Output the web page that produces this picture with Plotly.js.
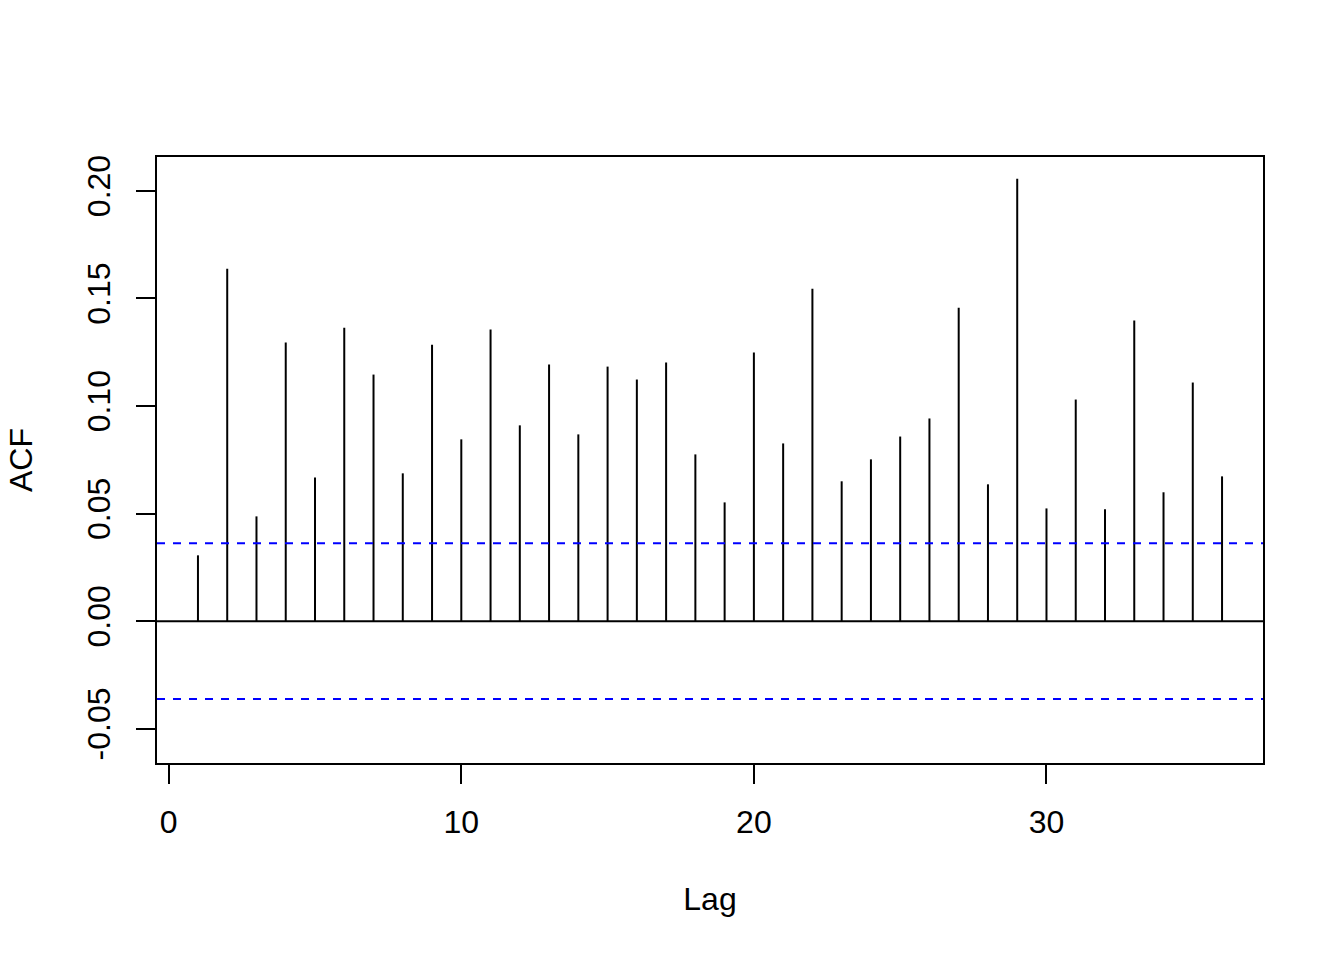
<!DOCTYPE html>
<html>
<head>
<meta charset="utf-8">
<script src="https://cdn.plot.ly/plotly-3.0.1.min.js"></script>
<style>html,body{margin:0;padding:0;background:#fff;}#chart{width:1344px;height:960px;}</style>
</head>
<body>
<div id="chart"></div>
<script>
// Data
var lags = [1,2,3,4,5,6,7,8,9,10,11,12,13,14,15,16,17,18,19,20,21,22,23,24,25,26,27,28,29,30,31,32,33,34,35,36];
var acfValues = [0.0306,0.1638,0.0487,0.1295,0.0668,0.1364,0.1146,0.0687,0.1285,0.0845,0.1355,0.0910,0.1193,0.0868,0.1183,0.1123,0.1202,0.0775,0.0552,0.1248,0.0826,0.1545,0.0650,0.0752,0.0858,0.0942,0.1457,0.0636,0.2056,0.0524,0.1030,0.0520,0.1397,0.0599,0.1109,0.0673];
var confLimit = 0.0362;
var xTickVals = [0,10,20,30];
var xTickText = ["0","10","20","30"];
var yTickVals = [-0.05,0,0.05,0.10,0.15,0.20];
var yTickText = ["-0.05","0.00","0.05","0.10","0.15","0.20"];

var sx = [], sy = [];
for (var i = 0; i < lags.length; i++) {
  sx.push(lags[i], lags[i], null);
  sy.push(0, acfValues[i], null);
}

var font = {family: "Liberation Sans, Arial, sans-serif", size: 32, color: "#000"};

var data = [{
  type: "scatter", mode: "lines", x: sx, y: sy,
  line: {color: "#000", width: 2}, hoverinfo: "skip", showlegend: false
}];

var layout = {
  width: 1344, height: 960,
  margin: {l: 157, r: 81, t: 157, b: 197},
  paper_bgcolor: "#fff", plot_bgcolor: "#fff",
  font: font,
  showlegend: false,
  xaxis: {
    range: [-0.4, 37.4], autorange: false,
    showgrid: false, zeroline: false,
    showline: true, mirror: true, linecolor: "#000", linewidth: 2,
    ticks: "outside", ticklen: 19, tickwidth: 2, tickcolor: "#000",
    tickmode: "array", tickvals: xTickVals, ticktext: xTickText,
    tickfont: font, ticklabelstandoff: 11,
    title: {text: "Lag", font: font, standoff: 48}
  },
  yaxis: {
    range: [-0.0659, 0.2157], autorange: false,
    showgrid: false, zeroline: false,
    showline: true, mirror: true, linecolor: "#000", linewidth: 2,
    ticks: "outside", ticklen: 19, tickwidth: 2, tickcolor: "#000",
    tickmode: "array", tickvals: yTickVals, ticktext: yTickText,
    tickangle: -90, tickfont: font, ticklabelstandoff: 13,
    title: {text: "ACF", font: font, standoff: 39}
  },
  shapes: [
    {type: "line", xref: "paper", x0: 0, x1: 1, yref: "y", y0: 0, y1: 0, line: {color: "#000", width: 2}},
    {type: "line", xref: "paper", x0: 0, x1: 1, yref: "y", y0: confLimit, y1: confLimit, line: {color: "#0000ff", width: 2, dash: "8px,8px"}},
    {type: "line", xref: "paper", x0: 0, x1: 1, yref: "y", y0: -confLimit, y1: -confLimit, line: {color: "#0000ff", width: 2, dash: "8px,8px"}}
  ]
};

Plotly.newPlot("chart", data, layout, {staticPlot: true, displayModeBar: false});
</script>
</body>
</html>
